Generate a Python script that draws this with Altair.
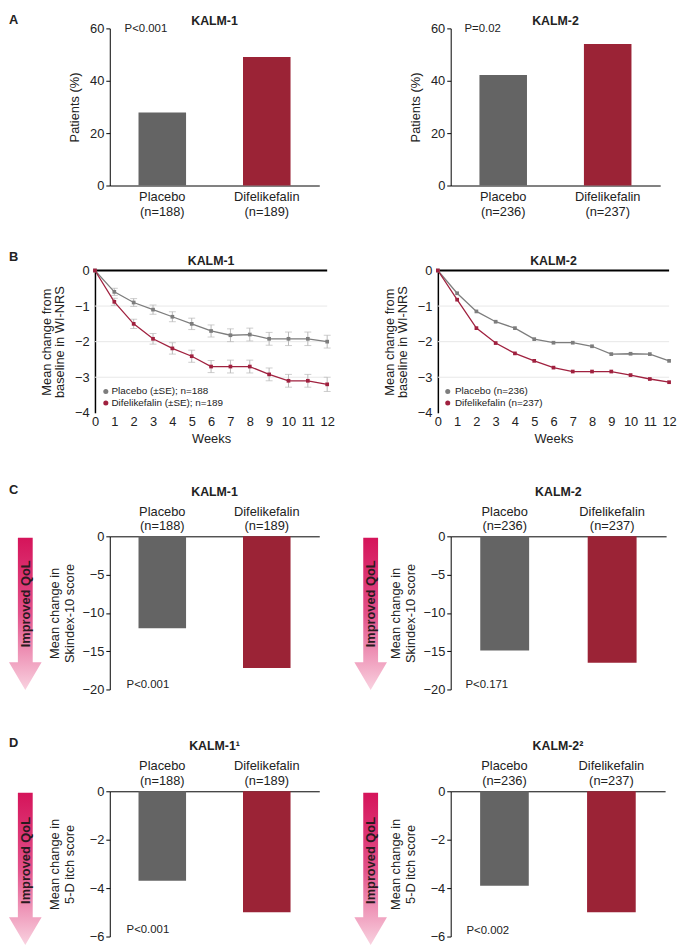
import altair as alt
import pandas as pd

FONT = "Liberation Sans"
TXT = "#222222"
GRAY_BAR = "#646464"
RED_BAR = "#9b2336"
GRAY_LINE = "#7d7d7d"
RED_LINE = "#a0213f"
ERR = "#b8b8b8"

# ---------------- data ----------------
groups = ["Placebo", "Difelikefalin"]
n_kalm1 = ["(n=188)", "(n=189)"]
n_kalm2 = ["(n=236)", "(n=237)"]

resp_kalm1 = [27.9, 49.1]
resp_kalm2 = [42.2, 54.0]

weeks = list(range(13))
wi_k1_placebo = [0, -0.6, -0.9, -1.1, -1.3, -1.5, -1.7, -1.82, -1.8, -1.92, -1.92, -1.92, -2.0]
wi_k1_dife = [0, -0.88, -1.5, -1.92, -2.19, -2.41, -2.7, -2.7, -2.7, -2.92, -3.1, -3.1, -3.2]
se_k1_placebo = [0, 0.1, 0.11, 0.13, 0.14, 0.16, 0.17, 0.18, 0.18, 0.18, 0.19, 0.19, 0.18]
se_k1_dife = [0, 0.1, 0.13, 0.15, 0.16, 0.17, 0.17, 0.18, 0.18, 0.18, 0.18, 0.18, 0.2]
wi_k2_placebo = [0, -0.64, -1.15, -1.44, -1.62, -1.93, -2.03, -2.03, -2.13, -2.35, -2.34, -2.35, -2.54]
wi_k2_dife = [0, -0.82, -1.62, -2.04, -2.33, -2.54, -2.73, -2.84, -2.84, -2.84, -2.94, -3.05, -3.14]
legend_k1 = ["Placebo (±SE); n=188", "Difelikefalin (±SE); n=189"]
legend_k2 = ["Placebo (n=236)", "Difelikefalin (n=237)"]
grid_vals = [-1, -2, -3]

skindex_kalm1 = [-12.0, -17.2]
skindex_kalm2 = [-14.9, -16.5]
fived_kalm1 = [-3.7, -5.0]
fived_kalm2 = [-3.9, -5.0]

# ---------------- helpers ----------------
def ax(**kw):
    base = dict(labelFont=FONT, titleFont=FONT, labelColor=TXT, titleColor=TXT,
                labelFontSize=13, titleFontSize=13, titleFontWeight="normal",
                domainColor="black", tickColor="black", grid=False)
    base.update(kw)
    return alt.Axis(**base)


def ttl(text, offset, anchor="middle", size=12.5):
    return alt.TitleParams(text, frame="group", anchor=anchor, offset=offset, fontSize=size,
                           font=FONT, fontWeight="bold", color=TXT)


def bar_panel(values, ns, title, title_offset, pval, px, py, ydom, yvals, ytitle,
              w, h, top, title_pad, lab_y=None):
    df = pd.DataFrame({"group": groups, "n": ns,
                       "cat": [f"{g}|{n}" for g, n in zip(groups, ns)],
                       "value": values})
    if top:
        xaxis = ax(orient="top", labels=False, ticks=False, tickSize=0, domainWidth=1)
    else:
        xaxis = ax(orient="bottom", labelAngle=0, ticks=False, tickSize=0,
                   labelExpr="split(datum.label, '|')", labelLineHeight=15.5,
                   labelPadding=5, domainWidth=1)
    x = alt.X("cat:N", sort=None, title=None,
              scale=alt.Scale(paddingInner=0.545, paddingOuter=0.275), axis=xaxis)
    y = alt.Y("value:Q", title=ytitle, scale=alt.Scale(domain=ydom, nice=False),
              axis=ax(values=yvals, tickSize=4, labelPadding=2, titlePadding=title_pad,
                      titleLineHeight=15))
    bars = alt.Chart(df).mark_bar(opacity=1).encode(
        x=x, y=y,
        color=alt.Color("group:N", scale=alt.Scale(domain=groups, range=[GRAY_BAR, RED_BAR]),
                        legend=None))
    ptxt = alt.Chart(pd.DataFrame({"t": [pval]})).mark_text(
        align="left", baseline="middle", fontSize=11.5, font=FONT, color=TXT
    ).encode(x=alt.value(px), y=alt.value(py), text="t:N")
    layers = [bars, ptxt]
    if top:
        for field, yy in (("group", lab_y[0]), ("n", lab_y[1])):
            layers.append(alt.Chart(df).mark_text(
                align="center", baseline="alphabetic", fontSize=13, font=FONT, color=TXT
            ).encode(x=x, y=alt.value(yy), text=f"{field}:N"))
    return alt.layer(*layers).properties(width=w, height=h, title=ttl(title, title_offset))


def legend_rows(labels, colors, dot_x, text_x, ys):
    out = []
    for lab, col, yy in zip(labels, colors, ys):
        d = pd.DataFrame({"t": [lab]})
        out.append(alt.Chart(d).mark_point(shape="circle", filled=True, size=26, opacity=1,
                                           color=col).encode(x=alt.value(dot_x), y=alt.value(yy)))
        out.append(alt.Chart(d).mark_text(align="left", baseline="middle", fontSize=10,
                                          font=FONT, color=TXT).encode(
            x=alt.value(text_x), y=alt.value(yy), text="t:N"))
    return out


def line_panel(plc, dif, se_p, se_d, labels, title, title_offset, w, h, show_err,
               dot_x, text_x, leg_y):
    df = pd.DataFrame({"week": weeks * 2, "value": plc + dif,
                       "series": [labels[0]] * len(weeks) + [labels[1]] * len(weeks)})
    yscale = alt.Scale(domain=[-4, 0], nice=False)
    yaxis = ax(values=[0, -1, -2, -3, -4], ticks=False, tickSize=0, labelPadding=6,
               domainWidth=1.5, titlePadding=8, titleLineHeight=13.5)
    ytitle = ["Mean change from", "baseline in WI-NRS"]
    xscale = alt.Scale(domain=[0, 12], nice=False)
    xaxis = ax(values=weeks, ticks=False, tickSize=0, domain=False, labelPadding=3,
               titlePadding=4, labelFlush=False, format="d")

    def X(f):
        return alt.X(f, scale=xscale, axis=xaxis, title="Weeks")

    def Y(f):
        return alt.Y(f, scale=yscale, axis=yaxis, title=ytitle)

    grid = alt.Chart(pd.DataFrame({"g": grid_vals})).mark_rule(
        color="#e8e8e8", strokeWidth=1).encode(y=Y("g:Q"))
    zero = alt.Chart(pd.DataFrame({"z": [0]})).mark_rule(
        color="black", strokeWidth=2).encode(y=Y("z:Q"))
    sc = alt.Scale(domain=labels, range=[GRAY_LINE, RED_LINE])
    line = alt.Chart(df).mark_line(strokeWidth=1.3).encode(
        x=X("week:Q"), y=Y("value:Q"), color=alt.Color("series:N", scale=sc, legend=None))
    pts = alt.Chart(df).mark_point(shape="square", filled=True, size=14, opacity=1).encode(
        x=X("week:Q"), y=Y("value:Q"), color=alt.Color("series:N", scale=sc, legend=None))
    layers = [grid, zero]
    if show_err:
        edf = pd.DataFrame({"week": weeks[1:] * 2,
                            "lo": [v - s for v, s in zip(plc[1:], se_p[1:])] +
                                  [v - s for v, s in zip(dif[1:], se_d[1:])],
                            "hi": [v + s for v, s in zip(plc[1:], se_p[1:])] +
                                  [v + s for v, s in zip(dif[1:], se_d[1:])]})
        err = alt.Chart(edf).mark_rule(color=ERR, strokeWidth=1).encode(
            x=X("week:Q"), y=Y("lo:Q"), y2="hi:Q")
        cap_lo = alt.Chart(edf).mark_tick(orient="horizontal", size=7, thickness=1, color=ERR).encode(
            x=X("week:Q"), y=Y("lo:Q"))
        cap_hi = alt.Chart(edf).mark_tick(orient="horizontal", size=7, thickness=1, color=ERR).encode(
            x=X("week:Q"), y=Y("hi:Q"))
        layers += [err, cap_lo, cap_hi]
    layers += [line, pts]
    layers += legend_rows(labels, [GRAY_LINE, RED_LINE], dot_x, text_x, leg_y)
    return alt.layer(*layers).properties(width=w, height=h, title=ttl(title, title_offset))


def spacer(w, h, letter=None, offset=0):
    c = alt.Chart(pd.DataFrame({"t": [""]})).mark_text().encode(
        x=alt.value(w / 2), y=alt.value(h / 2), text="t:N").properties(width=w, height=h)
    if letter:
        c = c.properties(title=ttl(letter, offset, anchor="start", size=13))
    return c


R = 77.0
ARROW = ("M -0.0974 -1 L 0.0974 -1 L 0.0974 0.636 L 0.2143 0.636 L 0 1 "
         "L -0.2143 0.636 L -0.0974 0.636 Z")
GRAD = alt.Gradient(gradient="linear", x1=0, x2=0, y1=0, y2=1, stops=[
    alt.GradientStop(color="#d5145a", offset=0),
    alt.GradientStop(color="#e2518a", offset=0.5),
    alt.GradientStop(color="#f9d2e0", offset=1)])


def arrow_panel(w, h, cx, cy, ty, letter=None, offset=0):
    df = pd.DataFrame({"t": ["Improved QoL"]})
    arr = alt.Chart(df).mark_point(shape=ARROW, size=(2 * R) ** 2, filled=True, fill=GRAD,
                                   opacity=1, strokeWidth=0).encode(
        x=alt.value(cx), y=alt.value(cy))
    txt = alt.Chart(df).mark_text(angle=270, fontWeight="bold", fontSize=13, font=FONT,
                                  color="#2a1a20", baseline="middle", align="center").encode(
        x=alt.value(cx + 0.5), y=alt.value(ty), text="t:N")
    c = alt.layer(arr, txt).properties(width=w, height=h)
    if letter:
        c = c.properties(title=ttl(letter, offset, anchor="start", size=13))
    return c


def row(items):
    return alt.hconcat(*items, spacing=0, bounds="flush").resolve_scale(color="independent")


# ---------------- panels ----------------
rowA = row([
    spacer(102, 224.4, "A", 1.6),
    bar_panel(resp_kalm1, n_kalm1, "KALM-1", -4.9, "P<0.001", 15, 1, [0, 60], [0, 20, 40, 60],
              "Patients (%)", 212, 159, False, 8),
    spacer(133, 10),
    bar_panel(resp_kalm2, n_kalm2, "KALM-2", -4.9, "P=0.02", 14, 1, [0, 60], [0, 20, 40, 60],
              "Patients (%)", 212, 159, False, 8),
])

rowB = row([
    spacer(87, 214.2, "B", 6.3),
    line_panel(wi_k1_placebo, wi_k1_dife, se_k1_placebo, se_k1_dife, legend_k1, "KALM-1", -3,
               235, 144, True, 11, 16.7, [122.4, 134]),
    spacer(112, 10),
    line_panel(wi_k2_placebo, wi_k2_dife, None, None, legend_k2, "KALM-2", -3,
               234, 144, False, 10, 17.3, [122.4, 134]),
])

rowC = row([
    arrow_panel(102, 202.8, 16.5, 78.5, 68.3, "C", 40.2),
    bar_panel(skindex_kalm1, n_kalm1, "KALM-1", 7.4, "P<0.001", 17, 150, [-20, 0],
              [0, -5, -10, -15, -20], ["Mean change in", "Skindex-10 score"], 212, 155, True, 6,
              [-21, -6]),
    arrow_panel(133, 202.8, 52, 78.5, 68.3),
    bar_panel(skindex_kalm2, n_kalm2, "KALM-2", 7.4, "P<0.171", 15, 150, [-20, 0],
              [0, -5, -10, -15, -20], ["Mean change in", "Skindex-10 score"], 218, 155, True, 6,
              [-21, -6]),
])

rowD = row([
    arrow_panel(102, 156, 16.5, 78.5, 70, "D", 41.5),
    bar_panel(fived_kalm1, n_kalm1, "KALM-1¹", 7.7, "P<0.001", 17, 140.5, [-6, 0],
              [0, -2, -4, -6], ["Mean change in", "5-D itch score"], 212, 147, True, 13,
              [-21.5, -6.5]),
    arrow_panel(133, 156, 52, 78.5, 70),
    bar_panel(fived_kalm2, n_kalm2, "KALM-2²", 7.7, "P<0.002", 16, 141, [-6, 0],
              [0, -2, -4, -6], ["Mean change in", "5-D itch score"], 217, 147, True, 13,
              [-21.5, -6.5]),
])

chart = alt.vconcat(rowA, rowB, rowC, rowD, spacing=0).resolve_scale(
    color="independent"
).properties(padding=0).configure(font=FONT, view=alt.ViewConfig(stroke=None))

chart.save("out.html", embed_options={"renderer": "svg", "actions": False})
